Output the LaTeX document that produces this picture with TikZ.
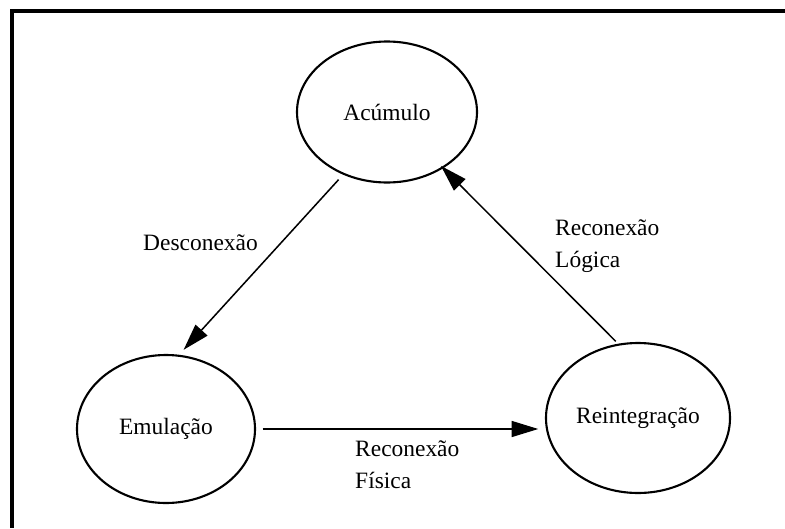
\documentclass[tikz,border=0pt]{standalone}
\usepackage{fontspec}
\setmainfont{Liberation Serif}
\usetikzlibrary{arrows.meta,shapes.geometric}

\begin{document}
\begin{tikzpicture}[
  x=0.03cm, y=-0.03cm,
  phase/.style={draw, ellipse, line width=1.8pt, inner sep=0pt,
                font=\fontsize{20}{27}\selectfont},
  lbl/.style={align=left, inner sep=0pt, font=\fontsize{20}{27}\selectfont},
  link/.style={->, line width=1.3pt},
  >={Triangle[length=8mm, width=4.8mm]}
]
\useasboundingbox (0,0) rectangle (785,528);
\draw[line width=2.6pt] (785,11) -- (12,11) -- (12,528);

\node[phase, minimum width=5.4cm, minimum height=4.23cm] (acum) at (387,112) {Acúmulo};
\node[phase, minimum width=5.34cm, minimum height=4.44cm] (emul) at (166,429) {Emulação};
\node[phase, minimum width=5.52cm, minimum height=4.5cm] (reint) at (638,418) {Reintegração};

\draw[link, shorten <=2mm, shorten >=2mm] (acum.235) -- (emul.80);
\draw[link, shorten <=2mm, shorten >=2mm] (emul.east) -- (reint.west |- emul.east);
\draw[link, shorten <=1mm, shorten >=-1mm] (reint.105) -- (acum.315);

\node[lbl, anchor=west] (desc) at (143,243) {Desconexão};
\node[lbl, anchor=west] (fis) at (355,465) {Reconexão\\Física};
\node[lbl, anchor=west] (log) at (555,246) {Reconexão\\Lógica};
\end{tikzpicture}
\end{document}
